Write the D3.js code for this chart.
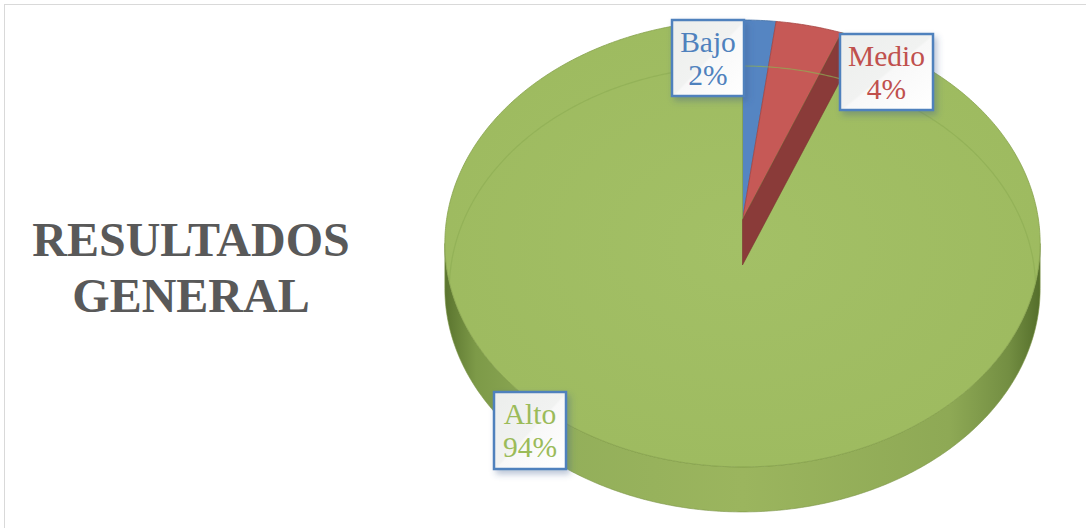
<!DOCTYPE html>
<html lang="es">
<head>
<meta charset="utf-8">
<title>Resultados general</title>
<script src="https://d3js.org/d3.v7.min.js"></script>
<style>
    body { margin: 0; background: #fff; }
    .title { font-family: "Liberation Serif", "Times New Roman", serif; font-weight: bold; font-size: 48px; fill: #595959; }
    .lbl { font-family: "Liberation Serif", "Times New Roman", serif; font-size: 29.5px; }
</style>
</head>
<body>
<script>
    var categories = ["Bajo", "Medio", "Alto"];
    var values = [2, 4, 94];
    var colors = ["#4f81bd", "#c0504d", "#9bbb59"];
    var topColors = ["#5585c2", "#c65956", "#a0bd63"];
    var titleLines = ["RESULTADOS", "GENERAL"];

    var w = 1086, h = 528;
    // pie geometry (perspective ellipse)
    var cx = 742.5, cy = 220, A = 221, B = 296, k = 0.105, depth = 45;

    var svg = d3.select("body").append("svg")
        .attr("width", w)
        .attr("height", h);

    var defs = svg.append("defs");

    var side = defs.append("linearGradient").attr("id", "sideGrad")
        .attr("gradientUnits", "userSpaceOnUse")
        .attr("x1", cx - B).attr("x2", cx + B).attr("y1", 0).attr("y2", 0);
    [[0, "#5c7630"], [0.05, "#7d9a48"], [0.2, "#93af5a"], [0.5, "#9bb55e"], [0.85, "#8ea955"], [0.95, "#738e42"], [1, "#56702c"]]
        .forEach(s => side.append("stop").attr("offset", s[0]).attr("stop-color", s[1]));

    var topGrad = defs.append("radialGradient").attr("id", "topGrad")
        .attr("cx", 0.5).attr("cy", 0.5).attr("r", 0.6);
    topGrad.append("stop").attr("offset", 0).attr("stop-color", "#a3c066");
    topGrad.append("stop").attr("offset", 1).attr("stop-color", "#9dba5f");

    var boxGrad = defs.append("linearGradient").attr("id", "boxGrad")
        .attr("x1", 0).attr("y1", 0).attr("x2", 1).attr("y2", 1);
    boxGrad.append("stop").attr("offset", 0).attr("stop-color", "#eceeec");
    boxGrad.append("stop").attr("offset", 0.5).attr("stop-color", "#f1f2f1");
    boxGrad.append("stop").attr("offset", 0.52).attr("stop-color", "#f8f8f8");
    boxGrad.append("stop").attr("offset", 1).attr("stop-color", "#ffffff");

    var shadow = defs.append("filter").attr("id", "shadow")
        .attr("x", "-20%").attr("y", "-20%").attr("width", "150%").attr("height", "150%");
    shadow.append("feDropShadow").attr("dx", 3).attr("dy", 4).attr("stdDeviation", 3)
        .attr("flood-color", "#3a5a8a").attr("flood-opacity", 0.35);

    // chart border
    svg.append("rect")
        .attr("x", 4.5).attr("y", 4.5)
        .attr("width", w + 10).attr("height", h + 10)
        .attr("fill", "none").attr("stroke", "#d9d9d9");

    // title
    svg.append("g").selectAll("text")
        .data(titleLines).enter()
        .append("text")
        .attr("class", "title")
        .attr("x", 191)
        .attr("y", (d, i) => 256 + i * 56)
        .attr("text-anchor", "middle")
        .text(d => d);

    function proj(t, r, dz) {
        var s = 1 + k * r * Math.cos(t);
        return [cx + B * r * Math.sin(t) / s, cy - A * r * Math.cos(t) / s + (dz || 0)];
    }
    function arcPts(a0, a1, dz) {
        var n = Math.max(2, Math.ceil((a1 - a0) / 0.01));
        return d3.range(n + 1).map(i => proj(a0 + (a1 - a0) * i / n, 1, dz));
    }
    var line = d3.line();

    var pie = d3.pie().sort(null).value(d => d.value);
    var slices = pie(categories.map((c, i) => ({ name: c, value: values[i], i: i })));

    var plot = svg.append("g");

    // visible front side of the cylinder
    var tR = Math.acos(-k), tL = 2 * Math.PI - tR;
    slices.forEach(function (d) {
        var a0 = Math.max(d.startAngle, tR), a1 = Math.min(d.endAngle, tL);
        if (a1 <= a0) return;
        var pts = arcPts(a0, a1, 0).concat(arcPts(a0, a1, depth).reverse());
        plot.append("path")
            .attr("d", line(pts) + "Z")
            .attr("fill", d.data.i === 2 ? "url(#sideGrad)" : colors[d.data.i])
            .attr("stroke", "#7a9444").attr("stroke-width", 0.6);
    });

    // top faces
    plot.selectAll("path.top")
        .data(slices).enter()
        .append("path")
        .attr("class", "top")
        .attr("d", d => line([[cx, cy]].concat(arcPts(d.startAngle, d.endAngle, 0))) + "Z")
        .attr("fill", d => d.data.i === 2 ? "url(#topGrad)" : topColors[d.data.i])
        .attr("stroke", d => d3.color(colors[d.data.i]).darker(0.4))
        .attr("stroke-width", 0.8);

    // cut face of the Medio slice
    var medio = slices[1];
    var e = proj(medio.endAngle, 1, 0), eb = proj(medio.endAngle, 1, depth);
    plot.append("path")
        .attr("d", line([[cx, cy], e, eb, [cx, cy + depth]]) + "Z")
        .attr("fill", "#8a3b39")
        .attr("stroke", "#7a3331").attr("stroke-width", 0.6);

    // bevel rim line on the top face
    var clip = defs.append("clipPath").attr("id", "topClip");
    clip.append("path").attr("d", line(arcPts(0, 2 * Math.PI, 0)) + "Z");
    plot.append("path")
        .attr("clip-path", "url(#topClip)")
        .attr("d", line(arcPts(0, 2 * Math.PI, 0).map(p => [cx + (p[0] - cx) * 0.985, p[1] + 46])) + "Z")
        .attr("fill", "none")
        .attr("stroke", "#8fae54").attr("stroke-width", 1.2).attr("stroke-opacity", 0.7);

    // data labels
    var labelBoxes = [
        { x: 672, y: 20, w: 72, h: 76 },
        { x: 840, y: 34, w: 93, h: 76 },
        { x: 494, y: 392, w: 72, h: 77 }
    ];
    var labels = svg.append("g").selectAll("g")
        .data(slices).enter()
        .append("g");
    labels.append("rect")
        .attr("x", d => labelBoxes[d.data.i].x)
        .attr("y", d => labelBoxes[d.data.i].y)
        .attr("width", d => labelBoxes[d.data.i].w)
        .attr("height", d => labelBoxes[d.data.i].h)
        .attr("fill", "url(#boxGrad)")
        .attr("stroke", "#4f81bd").attr("stroke-width", 2.5)
        .attr("filter", "url(#shadow)");
    labels.append("text")
        .attr("class", "lbl")
        .attr("text-anchor", "middle")
        .attr("fill", d => colors[d.data.i])
        .attr("x", d => labelBoxes[d.data.i].x + labelBoxes[d.data.i].w / 2)
        .attr("y", d => labelBoxes[d.data.i].y + 32)
        .text(d => d.data.name);
    labels.append("text")
        .attr("class", "lbl")
        .attr("text-anchor", "middle")
        .attr("fill", d => colors[d.data.i])
        .attr("x", d => labelBoxes[d.data.i].x + labelBoxes[d.data.i].w / 2)
        .attr("y", d => labelBoxes[d.data.i].y + 65)
        .text(d => d3.format(".0f")(d.value) + "%");
</script>
</body>
</html>
